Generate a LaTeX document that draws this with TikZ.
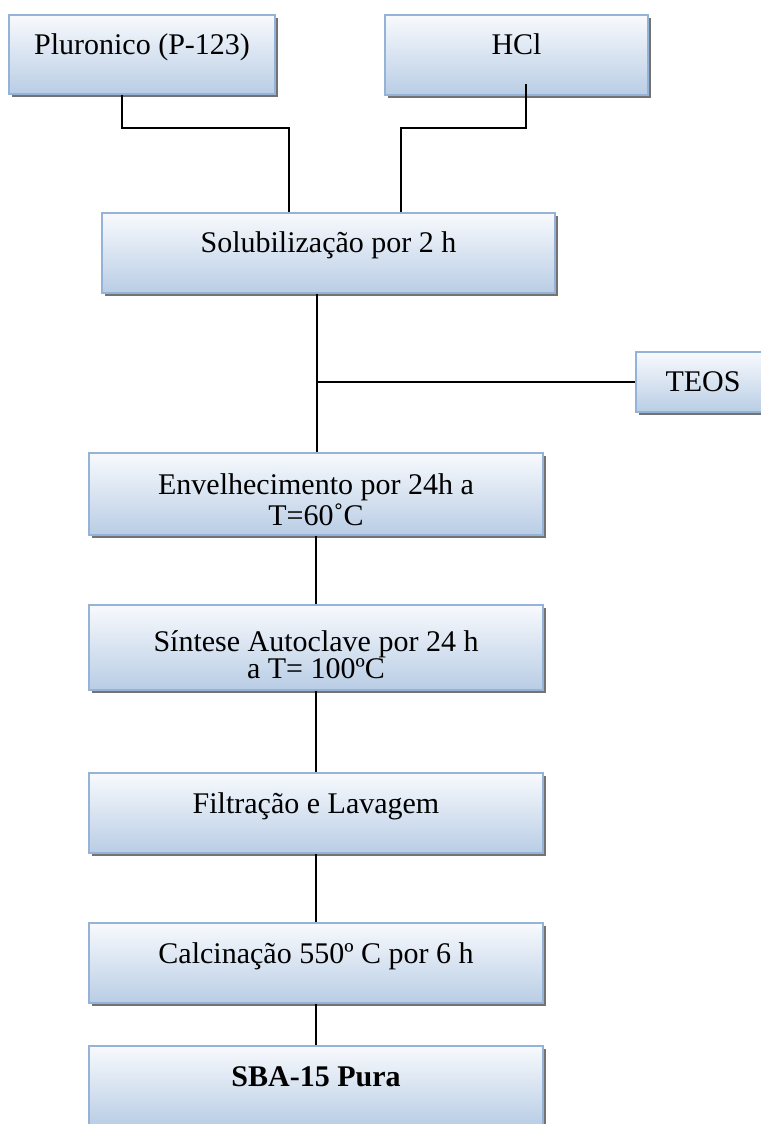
\documentclass[tikz,border=0pt]{standalone}
\usepackage{fontspec}
\setmainfont{Liberation Serif}
\usepackage{xcolor}
\usetikzlibrary{shadows}

\definecolor{boxtop}{HTML}{F8FAFD}
\definecolor{boxbottom}{HTML}{B9CDE5}
\definecolor{boxline}{HTML}{95B3D7}

\tikzset{
  stage/.style={rectangle, draw=boxline, line width=0.8pt,
    top color=boxtop, bottom color=boxbottom, inner sep=0pt,
    drop shadow={shadow xshift=1.2pt, shadow yshift=-1.2pt, fill=black!55, opacity=1},
    font=\fontsize{12}{10.6}\selectfont, align=center},
  oneline/.style={text height=8.5pt, text depth=8.5pt},
  twoline/.style={text height=25pt},
  link/.style={line width=0.8pt}
}

\begin{document}
\begin{tikzpicture}[x=0.4pt, y=-0.4pt]
  % Fix the page to the size of the picture
  \useasboundingbox (0,0) rectangle (760,1124);

  % Draw the starting materials
  \node[stage, oneline, minimum width=106.4pt, minimum height=31.6pt] (plur) at (142,54.5) {Pluronico (P-123)};
  \node[stage, oneline, minimum width=105.2pt, minimum height=32pt] (hcl) at (516.5,55) {HCl};

  % Draw the steps of the synthesis
  \node[stage, oneline, minimum width=181.2pt, minimum height=32pt] (sol) at (328.5,253) {Solubilização por 2 h};
  \node[stage, minimum width=53.6pt, minimum height=24pt] (teos) at (703,382) {TEOS};
  \node[stage, twoline, minimum width=181.6pt, minimum height=32.8pt] (env) at (316,494) {Envelhecimento por 24h a\\T=60˚C};
  \node[stage, twoline, minimum width=181.6pt, minimum height=34pt] (sin) at (316,647) {Síntese Autoclave por 24 h\\a T= 100ºC};
  \node[stage, oneline, minimum width=181.6pt, minimum height=32pt] (fil) at (316,813) {Filtração e Lavagem};
  \node[stage, oneline, minimum width=181.6pt, minimum height=32pt] (cal) at (316,963) {Calcinação 550º C por 6 h};
  \node[stage, oneline, minimum width=181.6pt, minimum height=32pt] (sba) at (316,1086) {\textbf{SBA-15 Pura}};

  % Connect the boxes
  \draw[link] (122,0 |- plur.south) |- (289,128) -- (289,0 |- sol.north);
  \draw[link] (526,0 |- hcl.south) ++(0,-12) |- (401,128) -- (401,0 |- sol.north);
  \draw[link] (317,0 |- sol.south) -- (317,0 |- env.north);
  \coordinate (tj) at (317,0 |- teos.west);
  \draw[link] (tj) -- (teos.west);
  \draw[link] (env.south) -- (sin.north);
  \draw[link] (sin.south) -- (fil.north);
  \draw[link] (fil.south) -- (cal.north);
  \draw[link] (cal.south) -- (sba.north);
\end{tikzpicture}
\end{document}
